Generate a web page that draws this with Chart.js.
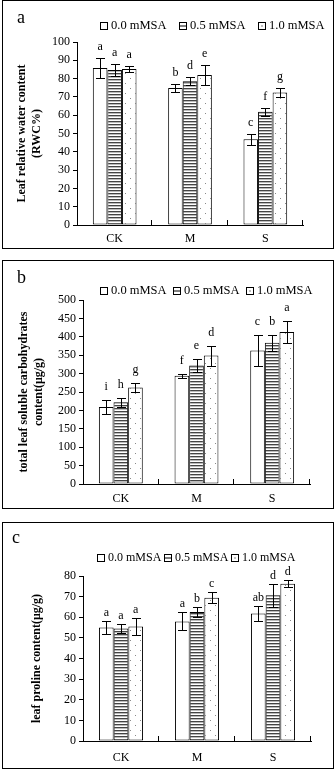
<!DOCTYPE html>
<html>
<head>
<meta charset="utf-8">
<script src="https://cdn.jsdelivr.net/npm/chart.js@4/dist/chart.umd.min.js"></script>
<style>
  html, body { margin: 0; padding: 0; background: #fff; }
  body { width: 335px; height: 769px; position: relative; overflow: hidden; }
  .panel { position: absolute; left: 2px; width: 330px; border: 1px solid #000; background: #fff; }
  canvas { display: block; }
</style>
</head>
<body>
<div class="panel" style="top:0px;height:247px"><canvas id="chartA" width="330" height="247"></canvas></div>
<div class="panel" style="top:260px;height:247px"><canvas id="chartB" width="330" height="247"></canvas></div>
<div class="panel" style="top:522px;height:245px"><canvas id="chartC" width="330" height="245"></canvas></div>
<script>
// ---------- data ----------
const categories = ['CK', 'M', 'S'];
const seriesLabels = ['0.0 mMSA', '0.5 mMSA', '1.0 mMSA'];

// a: leaf relative water content (RWC%)
const rwc0 = [85.8, 74.8, 46.9];
const rwc1 = [84.7, 78.6, 61.9];
const rwc2 = [85.3, 82.0, 72.4];
const rwcErr0 = [5.6, 2.2, 3.0];
const rwcErr1 = [3.5, 2.1, 2.2];
const rwcErr2 = [1.8, 5.5, 2.2];
const rwcLetters0 = ['a', 'b', 'c'];
const rwcLetters1 = ['a', 'd', 'f'];
const rwcLetters2 = ['a', 'e', 'g'];
const rwcTicks = { min: 0, max: 100, step: 10 };

// b: total leaf soluble carbohydrates (μg/g)
const carb0 = [209, 294, 363];
const carb1 = [222, 322, 384];
const carb2 = [262, 349, 413];
const carbErr0 = [18, 5, 43];
const carbErr1 = [12, 19, 22];
const carbErr2 = [13, 27, 31];
const carbLetters0 = ['i', 'f', 'c'];
const carbLetters1 = ['h', 'e', 'b'];
const carbLetters2 = ['g', 'd', 'a'];
const carbTicks = { min: 0, max: 500, step: 50 };

// c: leaf proline content (μg/g)
const pro0 = [55.0, 58.0, 61.8];
const pro1 = [54.5, 62.6, 70.7];
const pro2 = [55.5, 69.5, 76.3];
const proErr0 = [3.0, 4.4, 3.6];
const proErr1 = [2.0, 2.4, 5.5];
const proErr2 = [4.0, 2.8, 1.6];
const proLetters0 = ['a', 'a', 'ab'];
const proLetters1 = ['a', 'b', 'd'];
const proLetters2 = ['a', 'c', 'd'];
const proTicks = { min: 0, max: 80, step: 10 };

// ---------- styles ----------
const FONT = '"Liberation Serif", "Times New Roman", serif';

function stripePattern() {
  const c = document.createElement('canvas'); c.width = 4; c.height = 3;
  const x = c.getContext('2d');
  x.fillStyle = '#fff'; x.fillRect(0, 0, 4, 3);
  x.fillStyle = '#444'; x.fillRect(0, 0, 4, 1);
  x.fillStyle = '#bbb'; x.fillRect(0, 1, 4, 1);
  return x.createPattern(c, 'repeat');
}
function dotPattern() {
  const c = document.createElement('canvas'); c.width = 10; c.height = 10;
  const x = c.getContext('2d');
  x.fillStyle = '#fff'; x.fillRect(0, 0, 10, 10);
  x.fillStyle = '#8a8a8a';
  x.fillRect(2, 2, 1, 1); x.fillRect(7, 7, 1, 1);
  return x.createPattern(c, 'repeat');
}
const fills = ['#ffffff', stripePattern(), dotPattern()];

// ---------- plugins ----------
const errLettersPlugin = {
  id: 'errLetters',
  afterDatasetsDraw(chart, args, opts) {
    const ctx = chart.ctx, ys = chart.scales.y;
    ctx.save();
    ctx.strokeStyle = '#000'; ctx.lineWidth = 1;
    ctx.fillStyle = '#000';
    ctx.font = '12px ' + FONT;
    ctx.textAlign = 'center'; ctx.textBaseline = 'alphabetic';
    chart.data.datasets.forEach((ds, i) => {
      const meta = chart.getDatasetMeta(i);
      meta.data.forEach((bar, j) => {
        const v = ds.data[j], e = opts.errors[i][j];
        const x = Math.round(bar.x) + 0.5;
        const yt = Math.round(ys.getPixelForValue(v + e)) + 0.5;
        const yb = Math.round(ys.getPixelForValue(v - e)) + 0.5;
        ctx.beginPath();
        ctx.moveTo(x, yt); ctx.lineTo(x, yb);
        ctx.moveTo(x - 4.5, yt); ctx.lineTo(x + 4.5, yt);
        ctx.moveTo(x - 4.5, yb); ctx.lineTo(x + 4.5, yb);
        ctx.stroke();
        ctx.fillText(opts.letters[i][j], bar.x, yt - opts.gap);
      });
    });
    ctx.restore();
  }
};

const innerTicksPlugin = {
  id: 'innerTicks',
  afterDraw(chart) {
    const ctx = chart.ctx, xs = chart.scales.x, a = chart.chartArea;
    ctx.save();
    ctx.strokeStyle = '#000'; ctx.lineWidth = 1;
    ctx.beginPath();
    const n = chart.data.labels.length;
    for (let i = 1; i <= n; i++) {
      const x = i < n ? (xs.getPixelForValue(i - 1) + xs.getPixelForValue(i)) / 2 : a.right;
      const px = Math.round(x) - 0.5;
      ctx.moveTo(px, a.bottom); ctx.lineTo(px, a.bottom - 5);
    }
    ctx.stroke();
    ctx.restore();
  }
};

const patLegendPlugin = {
  id: 'patLegend',
  afterDraw(chart, args, opts) {
    const ctx = chart.ctx;
    ctx.save();
    ctx.font = opts.size + 'px ' + FONT;
    ctx.textBaseline = 'middle'; ctx.textAlign = 'left';
    let cx = opts.x;
    chart.data.datasets.forEach((ds, i) => {
      const x = Math.round(cx) + 0.5, y = Math.round(opts.y - 3.5) + 0.5;
      ctx.fillStyle = '#fff'; ctx.fillRect(x, y, 7, 7);
      ctx.strokeStyle = '#000'; ctx.lineWidth = 1;
      ctx.strokeRect(x, y, 7, 7);
      if (i === 1) { ctx.beginPath(); ctx.moveTo(x, y + 3.5); ctx.lineTo(x + 7, y + 3.5); ctx.stroke(); }
      if (i === 2) { ctx.fillStyle = '#000'; ctx.fillRect(x + 3, y + 3, 1, 1); }
      ctx.fillStyle = '#000';
      const tx = x + 10.5;
      ctx.fillText(ds.label, tx, opts.y + 0.5);
      cx = tx + ctx.measureText(ds.label).width + opts.gap;
    });
    ctx.restore();
  }
};

const panelLabelPlugin = {
  id: 'panelLabel',
  afterDraw(chart, args, opts) {
    const ctx = chart.ctx;
    ctx.save();
    ctx.font = opts.size + 'px ' + FONT;
    ctx.fillStyle = '#000';
    ctx.textBaseline = 'alphabetic'; ctx.textAlign = 'left';
    ctx.fillText(opts.text, opts.x, opts.y);
    ctx.restore();
  }
};

// ---------- chart builder ----------
function makePanel(id, p) {
  const canvas = document.getElementById(id);
  const H = canvas.height;
  return new Chart(canvas, {
    type: 'bar',
    data: {
      labels: categories,
      datasets: p.series.map((s, i) => ({
        label: seriesLabels[i],
        data: s,
        backgroundColor: fills[i],
        borderColor: '#000',
        borderWidth: 1,
        borderSkipped: false,
        barPercentage: 1.0,
        categoryPercentage: 0.58
      }))
    },
    options: {
      responsive: false,
      animation: false,
      events: [],
      layout: { padding: { top: p.plotTop, right: p.padRight, left: 0, bottom: 0 } },
      plugins: {
        legend: { display: false },
        tooltip: { enabled: false },
        errLetters: { errors: p.errors, letters: p.letters, gap: p.letterGap },
        patLegend: { x: p.legendX, y: p.legendY, gap: p.legendGap, size: p.legendSize },
        panelLabel: { text: p.label, x: p.labelX, y: p.labelY, size: 18 }
      },
      scales: {
        x: {
          grid: { display: false, drawTicks: false },
          border: { display: true, color: '#000', width: 1 },
          ticks: { color: '#000', font: { family: FONT, size: 12 }, padding: p.xPad, maxRotation: 0 },
          afterFit(scale) { scale.height = H - p.plotBottom; }
        },
        y: {
          min: p.ticks.min, max: p.ticks.max,
          grid: { drawOnChartArea: false, drawTicks: true, tickLength: 4, color: '#000' },
          border: { display: true, color: '#000', width: 1 },
          ticks: { stepSize: p.ticks.step, autoSkip: false, color: '#000', font: { family: FONT, size: 12 }, padding: 3 },
          title: { display: true, text: p.yTitle, color: '#000', font: { family: FONT, size: 12, weight: 'bold' }, padding: { top: p.titlePad, bottom: 0 } },
          afterFit(scale) { scale.width = p.axisX; }
        }
      }
    },
    plugins: [errLettersPlugin, innerTicksPlugin, patLegendPlugin, panelLabelPlugin]
  });
}

makePanel('chartA', {
  series: [rwc0, rwc1, rwc2],
  errors: [rwcErr0, rwcErr1, rwcErr2],
  letters: [rwcLetters0, rwcLetters1, rwcLetters2],
  ticks: rwcTicks,
  yTitle: ['Leaf relative water content', '(RWC%)'],
  axisX: 74, plotTop: 41, plotBottom: 224, padRight: 30,
  titlePad: 12, xPad: 7, letterGap: 9,
  legendX: 97, legendY: 24, legendGap: 12, legendSize: 12.5,
  label: 'a', labelX: 14, labelY: 22
});

makePanel('chartB', {
  series: [carb0, carb1, carb2],
  errors: [carbErr0, carbErr1, carbErr2],
  letters: [carbLetters0, carbLetters1, carbLetters2],
  ticks: carbTicks,
  yTitle: ['total leaf soluble carbohydrates', 'content(μg/g)'],
  axisX: 80, plotTop: 39, plotBottom: 223, padRight: 23,
  titlePad: 14, xPad: 8, letterGap: 11,
  legendX: 97, legendY: 29, legendGap: 6, legendSize: 12.5,
  label: 'b', labelX: 14, labelY: 22
});

makePanel('chartC', {
  series: [pro0, pro1, pro2],
  errors: [proErr0, proErr1, proErr2],
  letters: [proLetters0, proLetters1, proLetters2],
  ticks: proTicks,
  yTitle: 'leaf proline content(μg/g)',
  axisX: 80, plotTop: 53, plotBottom: 218, padRight: 22,
  titlePad: 27, xPad: 10, letterGap: 6,
  legendX: 94, legendY: 34, legendGap: 3, legendSize: 12,
  label: 'c', labelX: 9, labelY: 20
});
</script>
</body>
</html>
